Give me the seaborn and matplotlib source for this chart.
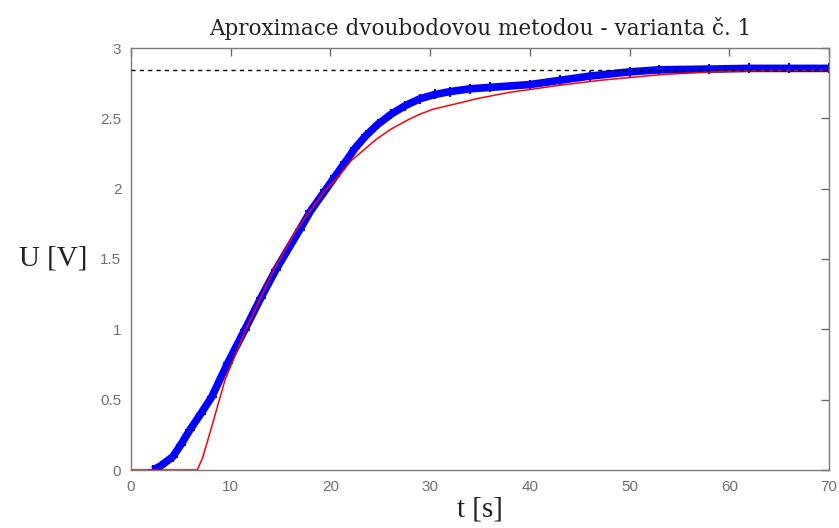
import matplotlib
matplotlib.use("Agg")
import matplotlib.pyplot as plt
import seaborn as sns
import pandas as pd

# Measured response (blue)
t_meas = [2.2, 3, 4.2, 5, 5.9, 7, 8.1, 9.7, 11.4, 13, 14.5, 16.9, 18, 19.5, 20.5, 21.5, 22.5, 23.6,
          24.8, 26.1, 27.5, 29, 30.5, 32, 34, 36, 40, 43, 46, 50, 53, 58, 62, 66, 70]
u_meas = [0.0, 0.03, 0.095, 0.18, 0.284, 0.40, 0.52, 0.76, 0.995, 1.22, 1.42, 1.706, 1.84, 1.99,
          2.09, 2.19, 2.29, 2.38, 2.46, 2.53, 2.59, 2.64, 2.67, 2.69, 2.71, 2.72, 2.74, 2.77, 2.80,
          2.83, 2.845, 2.85, 2.855, 2.855, 2.855]

# Approximation model (red)
t_model = [0, 6.65, 7.2, 8.0, 9.43, 11.5, 14.3, 16.6, 19.5, 20.5, 22.1, 24.5, 26, 27.8, 29, 30.3,
           33, 34.7, 38, 40, 43, 47, 50, 53, 55.4, 60, 65, 70]
u_model = [0.0, 0.0, 0.09, 0.284, 0.64, 0.995, 1.42, 1.706, 1.99, 2.06, 2.20, 2.345, 2.42, 2.49,
           2.53, 2.565, 2.61, 2.64, 2.685, 2.705, 2.735, 2.77, 2.79, 2.81, 2.82, 2.835, 2.84, 2.84]

steady = 2.845
x_ticks = [0, 10, 20, 30, 40, 50, 60, 70]
y_ticks = [0, 0.5, 1, 1.5, 2, 2.5, 3]
y_ticklabels = ["0", "0.5", "1", "1.5", "2", "2.5", "3"]

sns.set_style("white")
plt.rcParams['font.family'] = ['Liberation Sans', 'DejaVu Sans']

fig = plt.figure(figsize=(8.39, 5.28), dpi=100)
ax = fig.add_axes([131/839, 1 - 470/528, (829 - 131)/839, (470 - 48)/528])

dm = pd.DataFrame({"t": t_meas, "u": u_meas})
dr = pd.DataFrame({"t": t_model, "u": u_model})

sns.lineplot(data=dm, x="t", y="u", color="#0000ff", lw=5.5, ax=ax, zorder=2,
             solid_joinstyle="round", solid_capstyle="butt")
sns.scatterplot(data=dm, x="t", y="u", color="#0000ff", marker="+", s=60, linewidth=1.5, ax=ax, zorder=2)
sns.lineplot(data=dr, x="t", y="u", color="#ff0000", lw=1.1, ax=ax, zorder=3)
ax.axhline(steady, color="black", ls=(0, (3, 3)), lw=1.0, zorder=4)

ax.set_xlim(0, 70)
ax.set_ylim(0, 3)
ax.set_xticks(x_ticks)
ax.set_yticks(y_ticks)
ax.set_yticklabels(y_ticklabels)
ax.tick_params(direction="in", length=6, width=1, colors="#6b6b6b", labelcolor="#707070",
               labelsize=11, top=True, right=True, pad=7)
for s in ax.spines.values():
    s.set_color("#7a7a7a")
    s.set_linewidth(1)

ax.set_xlabel("t [s]", fontsize=21, family=["Liberation Serif", "DejaVu Serif"], labelpad=2, color="#222222")
ax.set_ylabel("U [V]", fontsize=21, family=["Liberation Serif", "DejaVu Serif"], rotation=0,
              labelpad=34, color="#222222", va="center")
ax.set_title("Aproximace dvoubodovou metodou - varianta č. 1", fontsize=15.5,
             family=["DejaVu Serif"], pad=9, color="#222222")

fig.savefig("out.png", dpi=100)
